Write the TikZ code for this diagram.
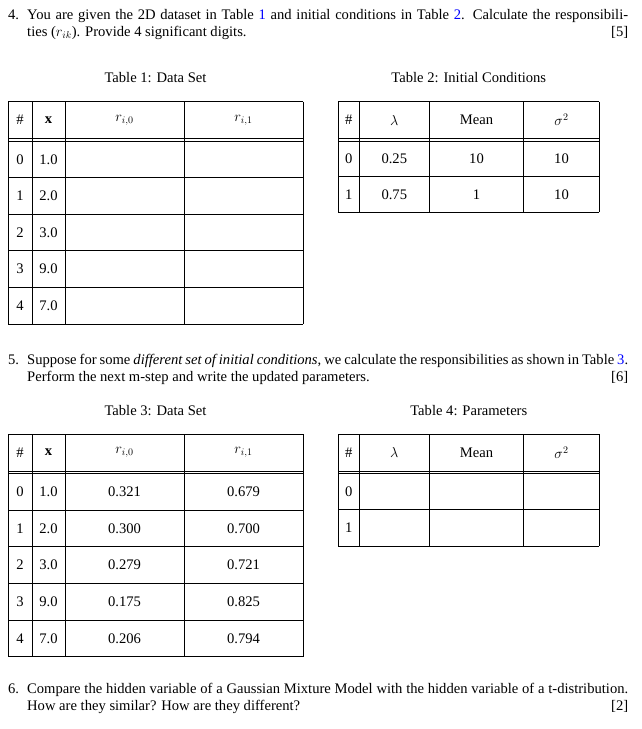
\documentclass[tikz,border=0pt]{standalone}
\usepackage{fontspec}
\setmainfont{Liberation Serif}
\usepackage{tikz}
\usetikzlibrary{positioning}
\definecolor{linkblue}{rgb}{0,0,1}

\begin{document}
\begin{tikzpicture}[%
    x=1pt, y=-1pt,              % pixel-like grid, y going down
    every node/.style={font=\fontsize{14.6}{17.4}\selectfont, inner sep=0pt},
    ]
\tikzset{
  rule/.style={line width=0.8pt},
  question/.style={anchor=base west, text width=601pt, align=justify},
  qnum/.style={anchor=base west},
  caption/.style={anchor=base},
  cell/.style={anchor=center}
}
\useasboundingbox (0,0) rectangle (642,729);

    % --- question 4
    \node [qnum] (q4n) at (8,19) {4.};
    \node [question] (q4) at (27,19) {You are given the 2D dataset in Table \textcolor{linkblue}{1} and initial conditions in Table \textcolor{linkblue}{2}. Calculate the responsibili-\linebreak ties ($r_{ik}$). Provide 4 significant digits.\hfill[5]};

    \node [caption] (cap1) at (155.5,82) {Table 1: Data Set};
    \node [caption] (cap2) at (468.8,82) {Table 2: Initial Conditions};

    % --- table 1 (grid)
    \foreach \y in {101.7,138.3,141,177.6,214.2,250.8,287.4,324}
        \draw [rule] (8,\y) -- (303,\y);
    \foreach \x in {8,32,65,184,303}
        \draw [rule] (\x,101.7) -- (\x,324);
    \node [cell] (t1a) at (20,120) {\#};
    \node [cell] (t1b) at (48.5,120) {\textbf{x}};
    \node [cell] (t1c) at (124.5,120) {$r_{i,0}$};
    \node [cell] (t1d) at (243.5,120) {$r_{i,1}$};
    \foreach \v [count=\i from 0] in {1.0,2.0,3.0,9.0,7.0} {
        \node [cell] (t1r\i) at (20,159.3+36.6*\i) {\i};
        \node [cell] (t1x\i) at (48.5,159.3+36.6*\i) {\v};
    }

    % --- table 2 (grid)
    \foreach \y in {101.7,138.3,141,176.7,212.3}
        \draw [rule] (338.3,\y) -- (599.3,\y);
    \foreach \x in {338.3,359.3,429.3,523.7,599.3}
        \draw [rule] (\x,101.7) -- (\x,212.3);
    \node [cell] (t2a) at (348.8,120) {\#};
    \node [cell] (t2b) at (394.3,120) {$\lambda$};
    \node [cell] (t2c) at (476.5,120) {Mean};
    \node [cell] (t2d) at (561.5,120) {$\sigma^2$};
    \foreach \l/\m/\s [count=\i from 0] in {0.25/10/10, 0.75/1/10} {
        \node [cell] (t2r\i) at (348.8,158.9+35.6*\i) {\i};
        \node [cell] (t2l\i) at (394.3,158.9+35.6*\i) {\l};
        \node [cell] (t2m\i) at (476.5,158.9+35.6*\i) {\m};
        \node [cell] (t2s\i) at (561.5,158.9+35.6*\i) {\s};
    }

    % --- question 5
    \node [qnum] (q5n) at (8,364) {5.};
    \node [question] (q5) at (27,364) {Suppose for some \emph{different set of initial conditions}, we calculate the responsibilities as shown in Table~\textcolor{linkblue}{3}.\linebreak Perform the next m-step and write the updated parameters.\hfill[6]};

    \node [caption] (cap3) at (155.5,415.5) {Table 3: Data Set};
    \node [caption] (cap4) at (468.8,415.5) {Table 4: Parameters};

    % --- table 3 (grid)
    \foreach \y in {434.3,470.9,473.6,510.2,546.8,583.4,620,656.6}
        \draw [rule] (8,\y) -- (303,\y);
    \foreach \x in {8,32,65,184,303}
        \draw [rule] (\x,434.3) -- (\x,656.6);
    \node [cell] (t3a) at (20,452.6) {\#};
    \node [cell] (t3b) at (48.5,452.6) {\textbf{x}};
    \node [cell] (t3c) at (124.5,452.6) {$r_{i,0}$};
    \node [cell] (t3d) at (243.5,452.6) {$r_{i,1}$};
    \foreach \v/\p/\q [count=\i from 0] in {1.0/0.321/0.679, 2.0/0.300/0.700,
        3.0/0.279/0.721, 9.0/0.175/0.825, 7.0/0.206/0.794} {
        \node [cell] (t3r\i) at (20,491.9+36.6*\i) {\i};
        \node [cell] (t3x\i) at (48.5,491.9+36.6*\i) {\v};
        \node [cell] (t3p\i) at (124.5,491.9+36.6*\i) {\p};
        \node [cell] (t3q\i) at (243.5,491.9+36.6*\i) {\q};
    }

    % --- table 4 (grid)
    \foreach \y in {434.3,470.9,473.6,509.8,546}
        \draw [rule] (338.3,\y) -- (599.3,\y);
    \foreach \x in {338.3,359.3,429.3,523.7,599.3}
        \draw [rule] (\x,434.3) -- (\x,546);
    \node [cell] (t4a) at (348.8,452.6) {\#};
    \node [cell] (t4b) at (394.3,452.6) {$\lambda$};
    \node [cell] (t4c) at (476.5,452.6) {Mean};
    \node [cell] (t4d) at (561.5,452.6) {$\sigma^2$};
    \foreach \i in {0,1}
        \node [cell] (t4r\i) at (348.8,491.7+36.2*\i) {\i};

    % --- question 6
    \node [qnum] (q6n) at (8,693.3) {6.};
    \node [question] (q6) at (27,693.3) {Compare the hidden variable of a Gaussian Mixture Model with the hidden variable of a t-distribution.\linebreak How are they similar? How are they different?\hfill[2]};
\end{tikzpicture}
\end{document}
